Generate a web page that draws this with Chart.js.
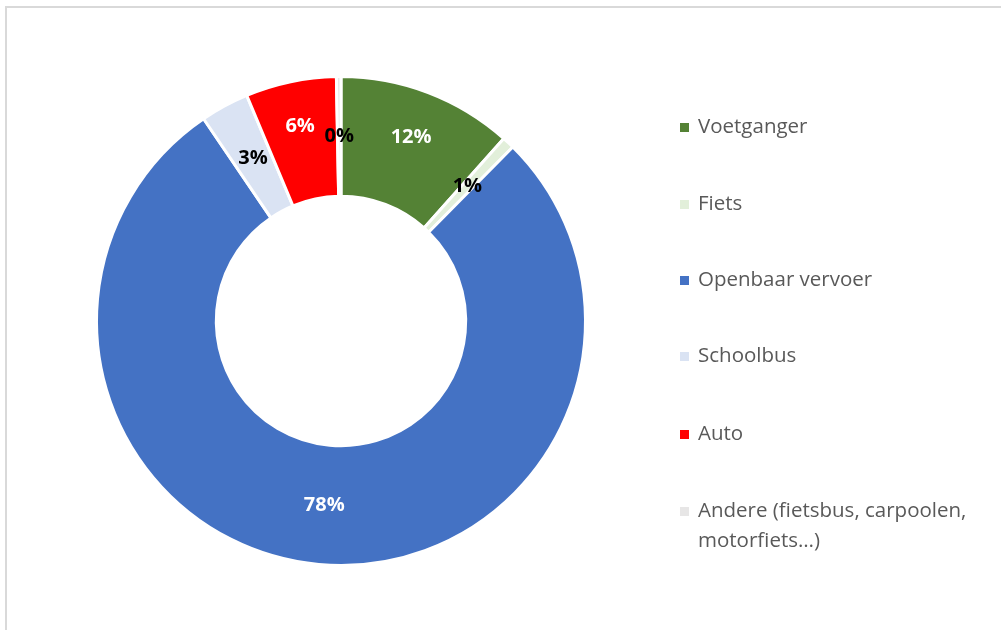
<!DOCTYPE html>
<html>
<head>
<meta charset="utf-8">
<script src="https://cdn.jsdelivr.net/npm/chart.js@4.4.1/dist/chart.umd.min.js"></script>
<style>
html,body{margin:0;padding:0;background:#fff;}
#wrap{position:relative;width:1001px;height:630px;}
canvas{display:block;}
</style>
</head>
<body>
<div id="wrap"><canvas id="c" width="1001" height="630"></canvas></div>
<script>
const categories = ["Voetganger", "Fiets", "Openbaar vervoer", "Schoolbus", "Auto", "Andere (fietsbus, carpoolen, motorfiets\u2026)"];
const legendLines = [["Voetganger"], ["Fiets"], ["Openbaar vervoer"], ["Schoolbus"], ["Auto"], ["Andere (fietsbus, carpoolen,", "motorfiets\u2026)"]];
const shares = [11.6, 0.8, 78.1, 3.2, 6.0, 0.3];
const percentLabels = ["12%", "1%", "78%", "3%", "6%", "0%"];
const sliceColors = ["#548235", "#e2efda", "#4472c4", "#dae3f3", "#ff0000", "#e7e6e6"];
const labelColors = ["#ffffff", "#000000", "#ffffff", "#000000", "#ffffff", "#000000"];

const frame = {
  id: 'frame',
  beforeDraw(chart) {
    const ctx = chart.ctx;
    ctx.save();
    ctx.strokeStyle = '#d9d9d9';
    ctx.lineWidth = 2;
    ctx.beginPath();
    ctx.moveTo(6, 630);
    ctx.lineTo(6, 7);
    ctx.lineTo(1001, 7);
    ctx.stroke();
    ctx.restore();
  }
};

const sliceLabels = {
  id: 'sliceLabels',
  afterDatasetsDraw(chart) {
    const ctx = chart.ctx;
    const meta = chart.getDatasetMeta(0);
    const outward = [12, 0, 0, 0, 14, 0];
    ctx.save();
    ctx.font = 'bold 20px "Open Sans", sans-serif';
    ctx.textAlign = 'center';
    ctx.textBaseline = 'middle';
    meta.data.forEach((arc, i) => {
      const p = arc.tooltipPosition();
      const dx = p.x - arc.x, dy = p.y - arc.y;
      const d = Math.sqrt(dx * dx + dy * dy) || 1;
      const k = (d + outward[i]) / d;
      ctx.fillStyle = labelColors[i];
      ctx.fillText(percentLabels[i], arc.x + dx * k, arc.y + dy * k);
    });
    ctx.restore();
  }
};

const sideLegend = {
  id: 'sideLegend',
  afterDraw(chart) {
    const ctx = chart.ctx;
    const x0 = 680, tx = 698;
    const ys = [127, 204, 280, 356, 434, 511];
    ctx.save();
    ctx.font = '20.5px "Open Sans", sans-serif';
    ctx.textBaseline = 'middle';
    ctx.textAlign = 'left';
    legendLines.forEach((lines, i) => {
      const y = ys[i];
      ctx.fillStyle = sliceColors[i];
      ctx.fillRect(x0, y - 4, 9, 9);
      ctx.fillStyle = '#595959';
      lines.forEach((ln, j) => ctx.fillText(ln, tx, y + j * 30));
    });
    ctx.restore();
  }
};

new Chart(document.getElementById('c'), {
  type: 'doughnut',
  data: {
    labels: categories,
    datasets: [{
      data: shares,
      backgroundColor: sliceColors,
      borderColor: '#ffffff',
      borderWidth: 3
    }]
  },
  options: {
    responsive: false,
    animation: false,
    cutout: '51%',
    layout: { padding: { left: 95, top: 75, right: 414, bottom: 63 } },
    plugins: {
      legend: { display: false },
      tooltip: { enabled: false }
    }
  },
  plugins: [frame, sliceLabels, sideLegend]
});
</script>
</body>
</html>
